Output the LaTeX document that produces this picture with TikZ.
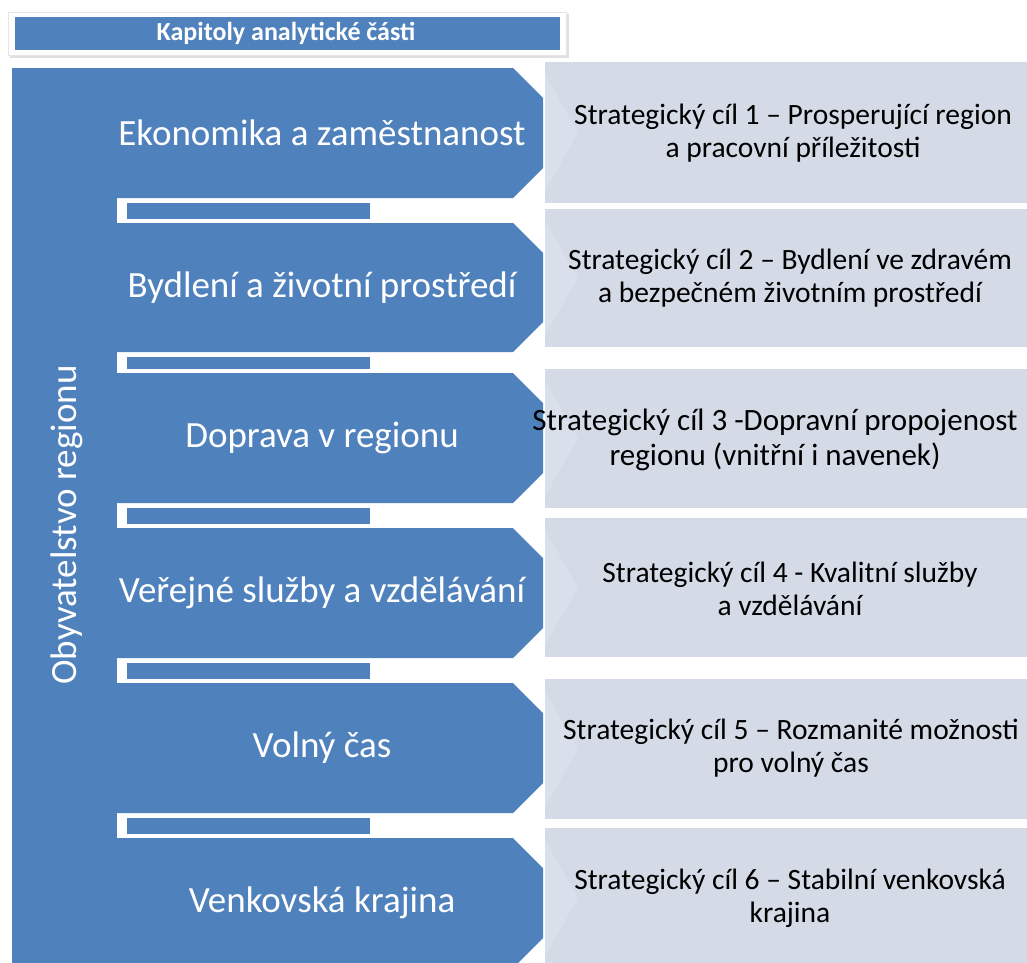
\documentclass[tikz,border=0pt]{standalone}
\usepackage{fontspec}
\setmainfont{Carlito}
\definecolor{blu}{HTML}{4F81BD}
\definecolor{lbox}{HTML}{D4DBE7}
\definecolor{ltri}{HTML}{DAE0EB}
\begin{document}
\begin{tikzpicture}[x=1pt,y=-1pt,
  rowlabel/.style={text=white,font=\fontsize{37}{42}\selectfont,inner sep=0pt},
  goallabel/.style={text=black,font=\fontsize{29.5}{33}\selectfont,align=center,inner sep=0pt},
  hdrlabel/.style={text=white,font=\bfseries\fontsize{26}{28}\selectfont,inner sep=0pt},
  vertlabel/.style={text=white,font=\fontsize{37}{42}\selectfont,rotate=90,inner sep=0pt}]
\useasboundingbox (0,0) rectangle (1027,962);
\clip (0,0) rectangle (1027,962);
% header
\fill[black!12] (10,14) rectangle (569,58);
\fill[white] (8,12) rectangle (566,55);
\draw[black!10] (8,12) rectangle (566,55);
\fill[blu] (15,17) rectangle (560,50);
\node[hdrlabel] (hdr) at (286,33.5) {Kapitoly analytické části};
% left band
\fill[blu] (12,68) rectangle (117,975);
% rows
\foreach \t/\b in {68/198,223/352,373/503,528/658,683/813,838/968}{
  \fill[blu] (12,\t) -- (513,\t) -- (543,\t+30) -- (543,\b-30) -- (513,\b) -- (12,\b) -- cycle;
}
% thin bars
\foreach \t/\b in {203/219,357/369,508/524,663/679,818/834}{
  \fill[blu] (127,\t) rectangle (370,\b);
}
% light boxes
\foreach \t/\b in {62/203,209/347,369/508,518/657,679/819,828/968}{
  \fill[lbox] (545,\t) rectangle (1040,\b);
  \fill[ltri] (545,\t+12) -- (578,{(\t+\b)/2}) -- (545,\b-12) -- cycle;
}
% texts
\node[vertlabel] (vert) at (67,525) {Obyvatelstvo regionu};
\node[rowlabel] (r1) at (322,133) {Ekonomika a zaměstnanost};
\node[rowlabel] (r2) at (322,288) {Bydlení a životní prostředí};
\node[rowlabel] (r3) at (322,438) {Doprava v regionu};
\node[rowlabel] (r4) at (322,593) {Veřejné služby a vzdělávání};
\node[rowlabel] (r5) at (322,748) {Volný čas};
\node[rowlabel] (r6) at (322,903) {Venkovská krajina};
\node[goallabel] (g1) at (793,133) {Strategický cíl 1 – Prosperující region\\a pracovní příležitosti};
\node[goallabel] (g2) at (790,278) {Strategický cíl 2 – Bydlení ve zdravém\\a bezpečném životním prostředí};
\node[goallabel,font=\fontsize{31}{35}\selectfont] (g3) at (775,440) {Strategický cíl 3 -Dopravní propojenost\\regionu (vnitřní i navenek)};
\node[goallabel] (g4) at (790,589) {Strategický cíl 4 - Kvalitní služby\\a vzdělávání};
\node[goallabel] (g5) at (791,748) {Strategický cíl 5 – Rozmanité možnosti\\pro volný čas};
\node[goallabel] (g6) at (790,898) {Strategický cíl 6 – Stabilní venkovská\\krajina};
\end{tikzpicture}
\end{document}
